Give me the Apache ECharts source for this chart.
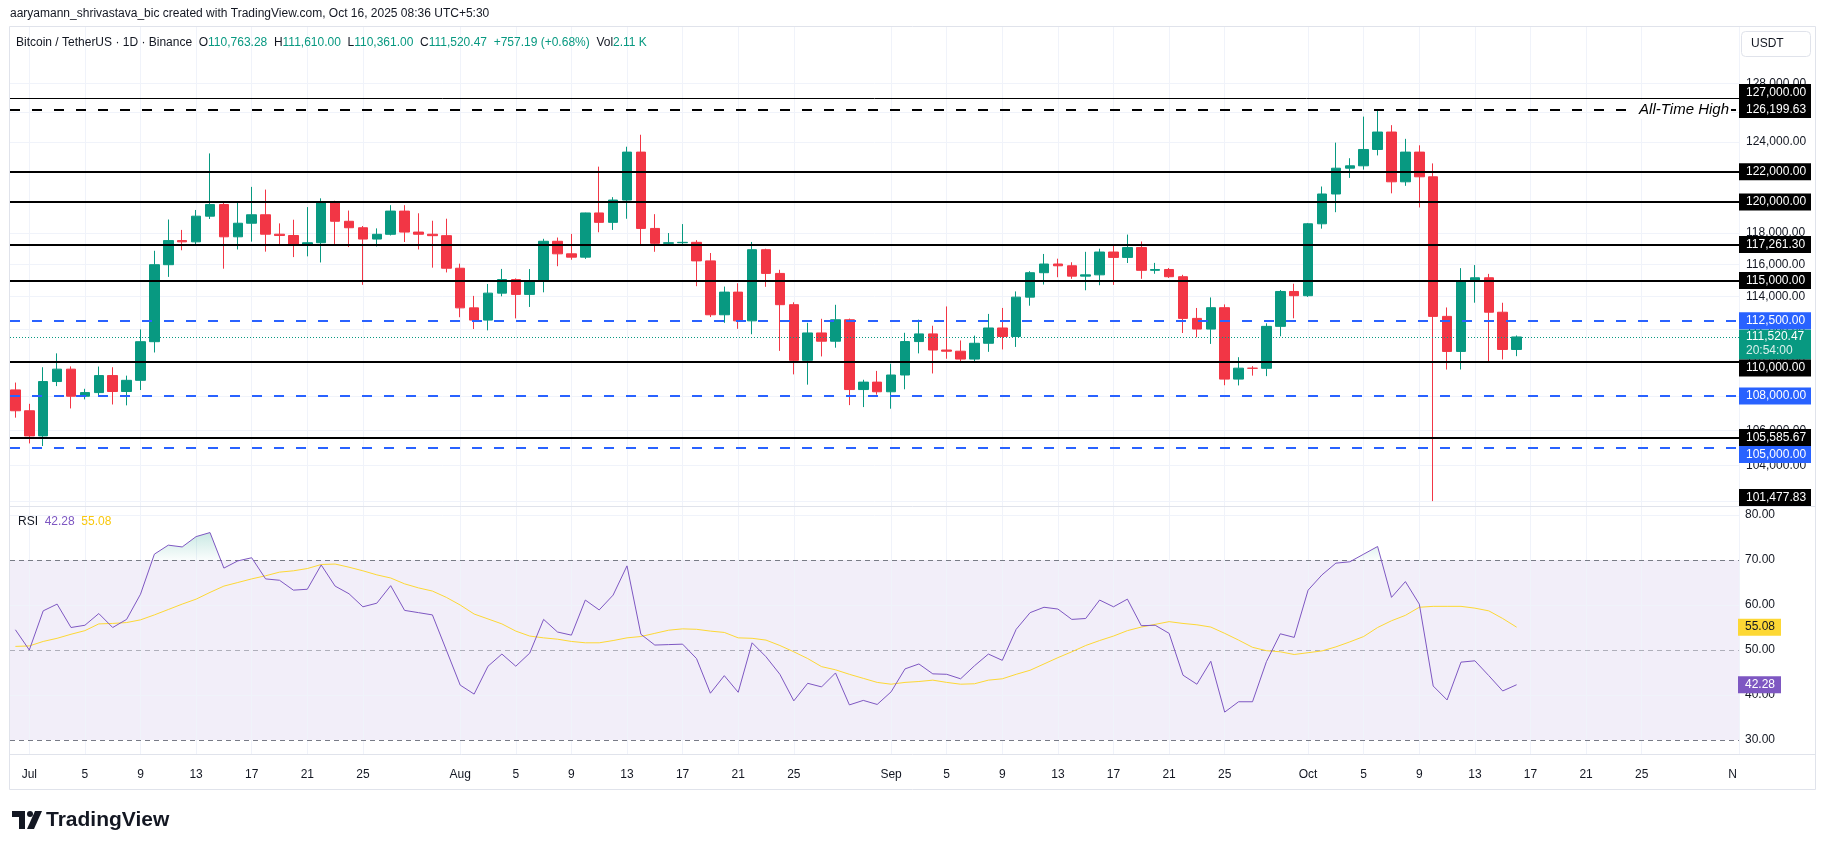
<!DOCTYPE html>
<html><head><meta charset="utf-8">
<script src="https://cdn.jsdelivr.net/npm/echarts@6/dist/echarts.min.js"></script>
<style>html,body{margin:0;padding:0;background:#fff;}#c{width:1825px;height:849px;}</style>
</head><body><div id="c"></div>
<script>
// ---------------- DATA ----------------
const startDate = '2025-06-30';
const open = [108356,107135,105681,108850,109584,107984,108198,109203,108262,108922,111233,115987,117516,117436,119086,119841,117758,118630,119177,117925,117840,117265,117380,119954,118756,118340,117614,117919,119415,118062,117922,117831,
115764,113297,112546,114208,115055,114129,114992,117472,116674,116462,119294,118686,120134,123306,118295,117342,117380,117405,116227,112872,114271,112500,116936,115438,113493,110111,111763,111262,112567,108377,108816,
108246,109237,111240,111705,110730,110659,110187,111137,112065,111546,113960,115482,116029,115918,115268,115349,116788,116447,117073,115632,115685,115232,112650,111998,113307,108994,109643,109635,112163,114311,
114048,118594,120530,122232,122391,123482,124658,121332,123306,121662,112774,110644,114958,115166,113029,110763.28];
const high = [108789,107540,109700,110530,109750,108420,109740,109700,109200,111980,116868,118870,118200,119488,123218,119940,120063,120998,120820,118620,118856,119676,120247,120090,119450,118451,118297,119800,119800,119273,118792,118922,
116052,114036,114777,115720,115127,115710,117630,117711,117944,119311,122335,120324,123667,124474,119216,117999,118575,117543,116725,114615,114821,117429,117000,115666,113641,112380,112625,113485,112640,108956,109480,
109912,111771,112575,112200,113384,111307,111600,112924,113293,114313,115580,116665,116366,116140,116800,117000,117286,117900,117459,116100,115780,115350,113290,113940,113510,110300,109767,112350,114400,114792,
118649,121022,123944,122896,125708,126199.63,125126,124197,123762,122550,113322,115770,115963,115409,113612,111610];
const low = [106733,105250,105100,108580,107270,107800,107950,107500,107450,108350,110583,115220,116900,117224,118905,115736,116950,117450,116812,117300,116467,116515,116128,117301,117103,114723,117140,117844,117427,116950,115800,115500,
112722,112000,111920,114010,112650,113353,114259,115891,116300,116353,118050,118200,118920,117180,116803,117172,117172,114640,112732,112380,112015,111684,114600,110680,109274,108666,110345,110870,107463,107350,108076,
107255,108393,110528,109329,110206,110017,110000,110621,110766,110917,113430,114740,115200,115100,114384,114700,114720,116092,115100,115417,115153,111760,111500,111100,108631,108620,109200,109170,111560,112656,
113970,118280,119344,121588,122136,123084,120574,121066,119651,102000,109561,109565,113616,110023,110164,110361];
const close = [107135,105681,108850,109584,107984,108198,109203,108262,108922,111233,115987,117516,117436,119086,119841,117758,118630,119177,117925,117840,117265,117380,119954,118756,118340,117614,117919,119415,118062,117922,117831,115764,
113297,112546,114208,115055,114129,114992,117472,116674,116462,119294,118686,120134,123306,118295,117342,117380,117405,116227,112872,114271,112500,116936,115438,113493,110111,111763,111262,112567,108377,108816,108246,
109237,111240,111705,110730,110659,110187,111137,112065,111546,113960,115482,116029,115918,115268,115349,116788,116447,117073,115632,115685,115232,112650,111998,113307,108994,109643,109635,112163,114311,114048,
118594,120530,122232,122391,123482,124658,121332,123306,121662,112774,110644,114958,115166,113029,110763.28,111520.47];
const rsi = [54.5,
50.0,58.7,60.2,55.0,55.5,58.1,55.0,56.8,62.4,71.3,73.3,72.9,75.2,76.1,68.2,69.8,70.5,65.8,65.5,63.3,63.5,68.9,64.2,62.5,59.6,60.4,64.3,58.8,58.3,57.8,50.0,
42.2,40.2,46.4,49.1,46.4,49.3,56.8,54.0,53.3,61.1,58.9,62.2,68.7,53.5,51.1,51.2,51.3,48.1,40.4,44.3,40.6,51.6,48.5,44.6,38.7,42.6,41.8,44.9,37.8,38.8,37.9,
40.7,45.8,46.9,44.7,44.6,43.6,46.5,49.1,47.7,54.6,58.3,59.5,59.1,56.8,57.0,61.1,59.6,61.3,55.4,55.5,53.7,44.4,42.4,47.5,36.2,38.5,38.5,47.4,53.6,52.8,
63.3,66.7,69.3,69.6,71.3,73.0,61.7,65.2,60.2,42.0,38.9,47.3,47.6,44.3,40.9,42.28];
const rsiMa = [50.8,
50.9,51.9,52.6,53.5,54.3,55.8,55.9,56.1,56.7,57.8,59.0,60.2,61.3,62.8,64.2,65.0,65.8,66.5,67.3,67.6,68.1,69.0,69.1,68.4,67.6,66.7,66.0,64.7,63.8,63.1,61.7,
60.0,58.0,56.9,55.8,54.2,53.1,52.7,52.4,51.9,51.6,51.6,52.1,52.7,53.0,53.7,54.4,54.7,54.6,54.2,53.9,52.7,52.6,52.2,51.0,49.6,48.1,46.3,45.6,44.6,43.7,42.8,
42.4,42.8,43.0,43.3,42.8,42.4,42.5,43.3,43.6,44.6,45.5,46.9,48.3,49.6,51.0,52.1,53.1,54.3,55.1,55.7,56.3,55.9,55.6,55.1,53.7,52.2,50.6,49.85,49.6,49.0,
49.4,49.8,50.7,51.8,53.0,55.0,56.5,57.7,59.5,59.7,59.7,59.7,59.3,58.7,57.0,55.08];

const solidLevels = [127000, 122000, 120000, 117261.30, 115000, 110000, 105585.67];
const blueLevels = [112500, 108000, 105000];
const athLevel = 126199.63;
const offscreenLevel = 101477.83;
const priceTicks = [128000,126000,124000,122000,120000,118000,116000,114000,112000,110000,108000,106000,104000,102000];
const rsiTicks = [80,70,60,50,40,30];
const rsiGridLevels = [80,60,40];
const rsiBandLevels = [70,50,30];
const timeTickDates = ['2025-07-01','2025-07-05','2025-07-09','2025-07-13','2025-07-17','2025-07-21','2025-07-25',
 '2025-08-01','2025-08-05','2025-08-09','2025-08-13','2025-08-17','2025-08-21','2025-08-25',
 '2025-09-01','2025-09-05','2025-09-09','2025-09-13','2025-09-17','2025-09-21','2025-09-25',
 '2025-10-01','2025-10-05','2025-10-09','2025-10-13','2025-10-17','2025-10-21','2025-10-25','2025-11-01'];
const timeTickLabels = ['Jul','5','9','13','17','21','25','Aug','5','9','13','17','21','25','Sep','5','9','13','17','21','25','Oct','5','9','13','17','21','25','Nov'];
const countdown = '20:54:00';
const volumeText = '2.11 K';

// ---------------- HELPERS ----------------
const DAY = 864e5, ORIGIN = Date.parse('2025-07-01T00:00:00Z');
const dayIdx = s => Math.round((Date.parse(s + 'T00:00:00Z') - ORIGIN) / DAY);
const x0 = dayIdx(startDate);
const xs = open.map((_, i) => x0 + i);
const tickX = timeTickDates.map(dayIdx);
const fmt = v => v.toLocaleString('en-US', {minimumFractionDigits: 2, maximumFractionDigits: 2});

const FONT = "'Liberation Sans', Arial, sans-serif";
const UP = '#089981', DOWN = '#f23645', GRIDC = '#f0f3fa', TXT = '#131722';
const X_MIN = -1.3885, X_MAX = 123.0;
const P_MIN = 101730, P_MAX = 131982;
const R_MIN = 26.89, R_MAX = 82.0;

const candleData = open.map((o, i) => [xs[i], o, close[i], low[i], high[i]]);
const rsiData = rsi.map((v, i) => [xs[i], v]);
const maData = rsiMa.map((v, i) => [xs[i], v]);
const last = open.length - 1;

const vLines = tickX.map(x => ({xAxis: x}));
const hLines = priceTicks.map(v => ({yAxis: v}));
const levelItems = [];
solidLevels.forEach(v => levelItems.push({yAxis: v, lineStyle: {color: '#000', width: v === 127000 ? 1 : 2, type: 'solid'}}));
blueLevels.forEach(v => levelItems.push({yAxis: v, lineStyle: {color: '#2962ff', width: 2, type: [10, 12]}}));
levelItems.push({yAxis: athLevel, lineStyle: {color: '#000', width: 2, type: [10, 12]}});
levelItems.push({yAxis: close[last], lineStyle: {color: UP, width: 1, type: [1, 2]}});

const rsiLineItems = [];
rsiGridLevels.forEach(v => rsiLineItems.push({yAxis: v, lineStyle: {color: GRIDC, width: 1, type: 'solid'}}));
tickX.forEach(x => rsiLineItems.push({xAxis: x, lineStyle: {color: GRIDC, width: 1, type: 'solid'}}));
const rsiBandItems = rsiBandLevels.map(v => ({yAxis: v, lineStyle: {color: v === 50 ? 'rgba(120,123,134,0.55)' : '#787b86', width: 1, type: [5, 4]}}));

const chart = echarts.init(document.getElementById('c'), null, {renderer: 'canvas', width: 1825, height: 849});
const option = {
  animation: false,
  backgroundColor: '#ffffff',
  grid: [
    {left: 10, top: 27, width: 1729, height: 479},
    {left: 10, top: 506, width: 1729, height: 248}
  ],
  xAxis: [
    {type: 'value', gridIndex: 0, min: X_MIN, max: X_MAX, show: false},
    {type: 'value', gridIndex: 1, min: X_MIN, max: X_MAX, show: false}
  ],
  yAxis: [
    {type: 'log', logBase: 10, gridIndex: 0, min: P_MIN, max: P_MAX, show: false},
    {type: 'value', gridIndex: 1, min: R_MIN, max: R_MAX, show: false}
  ],
  series: [
    {type: 'line', xAxisIndex: 0, yAxisIndex: 0, data: [], silent: true, z: 1,
     markLine: {silent: true, z: 1, symbol: ['none', 'none'], label: {show: false}, animation: false,
       lineStyle: {color: GRIDC, width: 1, type: 'solid'}, emphasis: {disabled: true}, data: hLines.concat(vLines)}},
    {type: 'candlestick', xAxisIndex: 0, yAxisIndex: 0, z: 3, silent: true, barWidth: 10,
     dimensions: ['date', 'open', 'close', 'lowest', 'highest'],
     encode: {x: 'date', y: ['open', 'close', 'lowest', 'highest']},
     itemStyle: {color: UP, color0: DOWN, borderColor: UP, borderColor0: DOWN, borderWidth: 1},
     data: candleData},
    {type: 'line', xAxisIndex: 0, yAxisIndex: 0, data: [], silent: true, z: 6,
     markLine: {silent: true, z: 6, symbol: ['none', 'none'], label: {show: false}, animation: false,
       emphasis: {disabled: true}, data: levelItems}},
    {type: 'line', xAxisIndex: 1, yAxisIndex: 1, data: [], silent: true, z: 1,
     markArea: {silent: true, z: 1, itemStyle: {color: 'rgba(126,87,194,0.1)'}, data: [[{yAxis: 30}, {yAxis: 70}]]},
     markLine: {silent: true, z: 2, symbol: ['none', 'none'], label: {show: false}, animation: false,
       emphasis: {disabled: true}, data: rsiLineItems.concat(rsiBandItems)}},
    {type: 'line', name: 'RSI', xAxisIndex: 1, yAxisIndex: 1, z: 5, silent: true, showSymbol: false, symbol: 'none',
     lineStyle: {color: '#7e57c2', width: 1}, itemStyle: {color: '#7e57c2'}, data: rsiData},
    {type: 'line', name: 'MA', xAxisIndex: 1, yAxisIndex: 1, z: 4, silent: true, showSymbol: false, symbol: 'none',
     lineStyle: {color: '#fdd835', width: 1}, itemStyle: {color: '#fdd835'}, data: maData},
    {type: 'line', name: 'OB', xAxisIndex: 1, yAxisIndex: 1, z: 3, silent: true, showSymbol: false, symbol: 'none',
     lineStyle: {width: 0, color: 'rgba(0,0,0,0)'}, itemStyle: {color: 'rgba(0,0,0,0)'}, data: rsiData}
  ]
};
chart.setOption(option);

// ---------------- LABELS (positioned via the chart's own scales) ----------------
const py = v => chart.convertToPixel({seriesIndex: 1}, [0, v])[1];
const ry = v => chart.convertToPixel({seriesIndex: 4}, [0, v])[1];
const px = x => chart.convertToPixel({seriesIndex: 4}, [x, 50])[0];

// overbought fill: area between RSI and the 70 line, visible only above 70
const y70 = ry(70), y78 = ry(78);
chart.setOption({series: [{}, {}, {}, {}, {}, {}, {
  areaStyle: {origin: 70, opacity: 1, color: new echarts.graphic.LinearGradient(0, y78, 0, y70, [
    {offset: 0, color: 'rgba(8,153,129,0.28)'}, {offset: 0.999, color: 'rgba(8,153,129,0.02)'}, {offset: 1, color: 'rgba(8,153,129,0)'}], true)}
}]});

const g = [];
const F12 = '12px ' + FONT;
const BOX_X = 1739, TEXT_X = 1746;

// frame & separators
g.push({type: 'rect', z: 100, silent: true, shape: {x: 9.5, y: 26.5, width: 1806, height: 763}, style: {fill: 'none', stroke: '#e0e3eb', lineWidth: 1}});
g.push({type: 'line', z: 100, silent: true, shape: {x1: 10, y1: 506.5, x2: 1815, y2: 506.5}, style: {stroke: '#e0e3eb', lineWidth: 1}});
g.push({type: 'line', z: 100, silent: true, shape: {x1: 10, y1: 754.5, x2: 1815, y2: 754.5}, style: {stroke: '#e0e3eb', lineWidth: 1}});

// price tick labels
priceTicks.forEach(v => g.push({type: 'text', z: 40, silent: true, x: TEXT_X, y: py(v), style: {text: fmt(v), font: F12, fill: TXT, verticalAlign: 'middle'}}));
// rsi tick labels
rsiTicks.forEach(v => g.push({type: 'text', z: 40, silent: true, x: TEXT_X - 1, y: ry(v), style: {text: fmt(v), font: F12, fill: TXT, verticalAlign: 'middle'}}));
// time labels
const meas = document.createElement('canvas').getContext('2d'); meas.font = F12;
tickX.forEach((x, i) => {
  let lab = timeTickLabels[i];
  if (i === tickX.length - 1) {
    const w = meas.measureText(lab).width;
    g.push({type: 'text', z: 40, silent: true, x: px(x) - w / 2, y: 775, style: {text: lab.charAt(0), font: F12, fill: TXT, verticalAlign: 'middle', align: 'left'}});
  } else {
    g.push({type: 'text', z: 40, silent: true, x: px(x), y: 775, style: {text: lab, font: F12, fill: TXT, verticalAlign: 'middle', align: 'center'}});
  }
});

// price label boxes with collision handling
const boxes = [];
boxes.push({v: close[last], bg: UP, fg: '#fff', lines: [fmt(close[last]), countdown], h: 30, anchor: 7.5});
[athLevel, 122000, 120000, 117261.30, 115000].forEach(v => boxes.push({v, bg: '#000', fg: '#fff', lines: [fmt(v)], h: 17, anchor: 8.5}));
boxes.push({v: 112500, bg: '#2962ff', fg: '#fff', lines: [fmt(112500)], h: 17, anchor: 8.5});
boxes.push({v: 108000, bg: '#2962ff', fg: '#fff', lines: [fmt(108000)], h: 17, anchor: 8.5});
boxes.push({v: 105585.67, bg: '#000', fg: '#fff', lines: [fmt(105585.67)], h: 17, anchor: 8.5});
boxes.push({v: 127000, bg: '#000', fg: '#fff', lines: [fmt(127000)], h: 17, anchor: 8.5});
boxes.push({v: 110000, bg: '#000', fg: '#fff', lines: [fmt(110000)], h: 17, anchor: 8.5});
boxes.push({v: 105000, bg: '#2962ff', fg: '#fff', lines: [fmt(105000)], h: 17, anchor: 8.5});
boxes.push({v: offscreenLevel, bg: '#000', fg: '#fff', lines: [fmt(offscreenLevel)], h: 17, anchor: 8.5});
const PT = 27, PB = 506;
const placed = [];
boxes.forEach(b => {
  let ideal = py(b.v);
  if (!isFinite(ideal)) ideal = PB;
  let top = Math.min(Math.max(ideal - b.anchor, PT), PB - b.h);
  for (let k = 0; k < 10; k++) {
    let moved = false;
    placed.forEach(p => {
      if (top < p.top + p.h && top + b.h > p.top) {
        top = (ideal < p.top + p.h / 2) ? p.top - b.h : p.top + p.h;
        moved = true;
      }
    });
    top = Math.min(Math.max(top, PT), PB - b.h);
    if (!moved) break;
  }
  b.top = top; placed.push(b);
  g.push({type: 'rect', z: 60, silent: true, shape: {x: BOX_X, y: top, width: 72, height: b.h}, style: {fill: b.bg}});
  b.lines.forEach((t, j) => g.push({type: 'text', z: 61, silent: true, x: TEXT_X, y: top + b.anchor + j * 14,
    style: {text: t, font: F12, fill: j === 0 ? b.fg : 'rgba(255,255,255,0.85)', verticalAlign: 'middle'}}));
});

// RSI value boxes
[[rsiMa[last], '#fdd835', '#131722'], [rsi[last], '#7e57c2', '#ffffff']].forEach(([v, bg, fg]) => {
  const y = ry(v);
  g.push({type: 'rect', z: 60, silent: true, shape: {x: BOX_X - 1, y: y - 8.5, width: 43, height: 17}, style: {fill: bg}});
  g.push({type: 'text', z: 61, silent: true, x: TEXT_X - 1, y: y, style: {text: fmt(v), font: F12, fill: fg, verticalAlign: 'middle'}});
});

// All-Time High text
g.push({type: 'text', z: 62, silent: true, x: 1731, y: py(athLevel),
  style: {text: 'All-Time High', font: 'italic 15px ' + FONT, fill: '#000', align: 'right', verticalAlign: 'middle', backgroundColor: '#fff', padding: [2, 2, 2, 12]}});

// header texts
const F12b = '12px ' + FONT;
g.push({type: 'text', z: 70, silent: true, x: 10, y: 14, style: {text: 'aaryamann_shrivastava_bic created with TradingView.com, Oct 16, 2025 08:36 UTC+5:30', font: F12b, fill: TXT, verticalAlign: 'middle'}});
const chg = close[last] - close[last - 1];
const pct = chg / close[last - 1] * 100;
const hdr = '{d|Bitcoin / TetherUS · 1D · Binance}  {d|O}{g|' + fmt(open[last]) + '}  {d|H}{g|' + fmt(high[last]) + '}  {d|L}{g|' + fmt(low[last]) +
  '}  {d|C}{g|' + fmt(close[last]) + '}  {g|' + (chg >= 0 ? '+' : '') + fmt(chg) + ' (' + (chg >= 0 ? '+' : '') + pct.toFixed(2) + '%)}  {d|Vol}{g|' + volumeText + '}';
g.push({type: 'text', z: 70, silent: true, x: 16, y: 43, style: {text: hdr, font: F12b, verticalAlign: 'middle',
  rich: {d: {fill: TXT, font: F12b}, g: {fill: UP, font: F12b}}}});
// USDT button
g.push({type: 'rect', z: 70, silent: true, shape: {x: 1741.5, y: 31.5, width: 69, height: 25, r: 4}, style: {fill: '#fff', stroke: '#e0e3eb', lineWidth: 1}});
g.push({type: 'text', z: 71, silent: true, x: 1751, y: 44, style: {text: 'USDT', font: F12, fill: TXT, verticalAlign: 'middle'}});
// RSI legend
g.push({type: 'text', z: 70, silent: true, x: 18, y: 522, style: {text: '{d|RSI}  {p|' + fmt(rsi[last]) + '}  {y|' + fmt(rsiMa[last]) + '}', font: F12, verticalAlign: 'middle',
  rich: {d: {fill: TXT, font: F12}, p: {fill: '#7e57c2', font: F12}, y: {fill: '#f9c80e', font: F12}}}});
// TradingView logo
g.push({type: 'rect', z: 70, silent: true, shape: {x: 12, y: 811, width: 13, height: 6}, style: {fill: TXT}});
g.push({type: 'rect', z: 70, silent: true, shape: {x: 19, y: 811, width: 6, height: 18}, style: {fill: TXT}});
g.push({type: 'circle', z: 70, silent: true, shape: {cx: 30, cy: 814, r: 3}, style: {fill: TXT}});
g.push({type: 'polygon', z: 70, silent: true, shape: {points: [[35, 811], [42, 811], [34, 829], [27, 829]]}, style: {fill: TXT}});
g.push({type: 'text', z: 70, silent: true, x: 46, y: 820, style: {text: 'TradingView', font: '600 21px ' + FONT, fill: TXT, verticalAlign: 'middle'}});

chart.setOption({graphic: {elements: g}});
</script>
</body></html>
